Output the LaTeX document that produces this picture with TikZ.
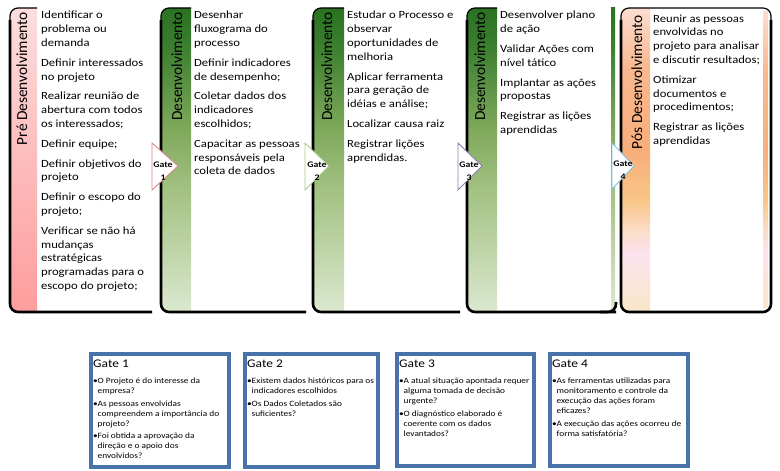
\documentclass[tikz,border=0pt]{standalone}
\usepackage{fontspec}
\setmainfont{Carlito}[FakeStretch=1.15]
\newfontfamily\titlefont{Carlito}
\usepackage{tikz}
\usetikzlibrary{positioning,shadows}

\definecolor{prelight}{HTML}{FCDEDE}
\definecolor{premid}{HTML}{FDBCBC}
\definecolor{predeep}{HTML}{FF9D9D}
\definecolor{devA}{HTML}{2A7222}
\definecolor{devB}{HTML}{3A7E2E}
\definecolor{devC}{HTML}{7FA95C}
\definecolor{devD}{HTML}{A3C283}
\definecolor{devE}{HTML}{DBE8CF}
\definecolor{posA}{HTML}{FCDCD0}
\definecolor{posB}{HTML}{F9B890}
\definecolor{posC}{HTML}{F8AE7A}
\definecolor{posD}{HTML}{F9C586}
\definecolor{posE}{HTML}{FBDCC6}
\definecolor{posF}{HTML}{FCE3EE}
\definecolor{posG}{HTML}{FAE6C8}
\definecolor{gateone}{HTML}{D9868A}
\definecolor{gatetwo}{HTML}{A8C98A}
\definecolor{gatethree}{HTML}{8D78B8}
\definecolor{gatefour}{HTML}{7FC2DC}
\definecolor{qblue}{HTML}{4A72AA}

\pgfdeclareverticalshading{preshade}{100bp}{color(0bp)=(predeep); color(25bp)=(predeep); color(50bp)=(premid); color(75bp)=(prelight); color(100bp)=(prelight)}
\pgfdeclareverticalshading{devshade}{100bp}{color(0bp)=(devE); color(25bp)=(devE); color(45bp)=(devD); color(55bp)=(devC); color(69bp)=(devB); color(75bp)=(devA); color(100bp)=(devA)}
\pgfdeclareverticalshading{posshade}{100bp}{color(0bp)=(posG); color(25bp)=(posG); color(34.5bp)=(posF); color(38.5bp)=(posE); color(43.5bp)=(posD); color(51.5bp)=(posC); color(65bp)=(posB); color(75bp)=(posA); color(100bp)=(posA)}

\newcommand{\qdot}{\makebox[4.5bp][l]{\textbullet}}
\newcommand{\qind}{\hspace*{4.5bp}}

\tikzset{
  colframe/.style={line width=2.6bp, rounded corners=8bp},
  coltop/.style={line width=1.2bp, rounded corners=8bp},
  coltext/.style={anchor=north west, inner sep=0pt, align=left, font=\fontsize{11bp}{13.8bp}\selectfont},
  coltitle/.style={rotate=90, anchor=base east, inner sep=0pt, font=\titlefont\fontsize{15.4bp}{18bp}\selectfont},
  gatemark/.style={fill=white, line width=0.9bp},
  gatelabel/.style={inner sep=0pt, align=center, font=\bfseries\fontsize{8.5bp}{10bp}\selectfont},
  qbox/.style={draw=qblue, line width=3.5bp, fill=white, inner sep=0pt, anchor=north west,
    drop shadow={shadow xshift=2.5bp, shadow yshift=-2.5bp, opacity=.3}},
  qtitle/.style={anchor=base west, inner sep=0pt, font=\fontsize{11.7bp}{14bp}\selectfont},
  qtext/.style={anchor=north west, inner sep=0pt, align=left, font=\fontsize{8.1bp}{10bp}\selectfont},
}

\begin{document}
\begin{tikzpicture}[x=1bp, y=-1bp]
\useasboundingbox (0,0) rectangle (780,471);

% pre-development column
\shade[shading=preshade, rounded corners=8bp] (37,8) -- (10,8) -- (10,312) -- (37,312);
\draw[coltop] (37,8) -- (10,8) -- (10,40);
\draw[colframe] (10,20) -- (10,312) -- (152,312);
\node[coltitle] (pretitle) at (27,12) {Pré Desenvolvimento};

% development columns
\shade[shading=devshade] (611,8) rectangle (615,312);
\foreach \xl/\xb/\xr/\xt in {161/191/306/182, 313/344/460/332, 467/497/616/485} {
  \shade[shading=devshade, rounded corners=8bp] (\xb,8) -- (\xl,8) -- (\xl,312) -- (\xb,312);
  \draw[coltop] (\xb,8) -- (\xl,8) -- (\xl,40);
  \draw[colframe] (\xl,20) -- (\xl,312) -- (\xr,312);
  \node[coltitle] (devtitle\xl) at (\xt,12) {Desenvolvimento};
}
\draw[colframe] (600,312) -- (616,312) -- (616,302);

% post-development column
\shade[shading=posshade, rounded corners=8bp] (650,8) -- (621,8) -- (621,312) -- (650,312);
\shade[shading=posshade] (763,12) rectangle (768,308);
\draw[coltop] (621,40) -- (621,8) -- (771,8) -- (771,40);
\draw[colframe] (621,20) -- (621,312) -- (771,312) -- (771,20);
\node[coltitle] (postitle) at (642,15) {Pós Desenvolvimento};

% column lists
\node[coltext] (prelist) at (41,9) {\strut Identificar o\\ problema ou\\ demanda\\[6bp]
  Definir interessados\\ no projeto\\[6bp]
  Realizar reunião de\\ abertura com todos\\ os interessados;\\[6bp]
  Definir equipe;\\[6bp]
  Definir objetivos do\\ projeto\\[6bp]
  Definir o escopo do\\ projeto;\\[6bp]
  Verificar se não há\\ mudanças\\ estratégicas\\ programadas para o\\ escopo do projeto;};
\node[coltext] (devlista) at (194,9) {\strut Desenhar\\ fluxograma do\\ processo\\[6bp]
  Definir indicadores\\ de desempenho;\\[6bp]
  Coletar dados dos\\ indicadores\\ escolhidos;\\[6bp]
  Capacitar as pessoas\\ responsáveis pela\\ coleta de dados};
\node[coltext] (devlistb) at (347,9) {\strut Estudar o Processo e\\ observar\\ oportunidades de\\ melhoria\\[6bp]
  Aplicar ferramenta\\ para geração de\\ idéias e análise;\\[6bp]
  Localizar causa raiz\\[6bp]
  Registrar lições\\ aprendidas.};
\node[coltext] (devlistc) at (500,9) {\strut Desenvolver plano\\ de ação\\[6bp]
  Validar Ações com\\ nível tático\\[6bp]
  Implantar as ações\\ propostas\\[6bp]
  Registrar as lições\\ aprendidas};
\node[coltext] (poslist) at (653,12.3) {\strut Reunir as pessoas\\ envolvidas no\\ projeto para analisar\\ e discutir resultados;\\[6bp]
  Otimizar\\ documentos e\\ procedimentos;\\[6bp]
  Registrar as lições\\ aprendidas};

% gates
\draw[gatemark, draw=gateone] (152,143) -- (178,166) -- (152,190) -- cycle;
\node[gatelabel] (gate1) at (163,171) {Gate\\[3bp]1};
\draw[gatemark, draw=gatetwo] (305,143) -- (329,166) -- (305,190) -- cycle;
\node[gatelabel] (gate2) at (317,171) {Gate\\[3bp]2};
\draw[gatemark, draw=gatethree] (458,143) -- (482,166) -- (458,190) -- cycle;
\node[gatelabel] (gate3) at (469,171) {Gate\\[3bp]3};
\draw[gatemark, draw=gatefour] (612,143) -- (634,166) -- (612,189) -- cycle;
\node[gatelabel] (gate4) at (623,170) {Gate\\[3bp]4};

% gate questions
\node[qbox, minimum width=138bp, minimum height=113bp] (q1) at (89,352) {};
\node[qtitle] (q1t) at ([xshift=4bp, yshift=-15bp]q1.north west) {Gate 1};
\node[qtext, below=9.5bp of q1t.south west, anchor=north west] (q1x) {\strut\qdot O Projeto é do interesse da\\ \qind empresa?\\[2.5bp]
  \qdot As pessoas envolvidas\\ \qind compreendem a importância do\\ \qind projeto?\\[2.5bp]
  \qdot Foi obtida a aprovação da\\ \qind direção e o apoio dos\\ \qind envolvidos?};

\node[qbox, minimum width=133bp, minimum height=113bp] (q2) at (243,352) {};
\node[qtitle] (q2t) at ([xshift=4bp, yshift=-15bp]q2.north west) {Gate 2};
\node[qtext, below=9.5bp of q2t.south west, anchor=north west] (q2x) {\strut\qdot Existem dados históricos para os\\ \qind indicadores escolhidos\\[2.5bp]
  \qdot Os Dados Coletados são\\ \qind suficientes?};

\node[qbox, minimum width=137bp, minimum height=112bp] (q3) at (395,352) {};
\node[qtitle] (q3t) at ([xshift=4bp, yshift=-15bp]q3.north west) {Gate 3};
\node[qtext, below=9.5bp of q3t.south west, anchor=north west] (q3x) {\strut\qdot A atual situação apontada requer\\ \qind alguma tomada de decisão\\ \qind urgente?\\[2.5bp]
  \qdot O diagnóstico elaborado é\\ \qind coerente com os dados\\ \qind levantados?};

\node[qbox, minimum width=138bp, minimum height=112bp] (q4) at (548,352) {};
\node[qtitle] (q4t) at ([xshift=4bp, yshift=-15bp]q4.north west) {Gate 4};
\node[qtext, below=9.5bp of q4t.south west, anchor=north west] (q4x) {\strut\qdot As ferramentas utilizadas para\\ \qind monitoramento e controle da\\ \qind execução das ações foram\\ \qind eficazes?\\[2.5bp]
  \qdot A execução das ações ocorreu de\\ \qind forma satisfatória?};
\end{tikzpicture}
\end{document}
